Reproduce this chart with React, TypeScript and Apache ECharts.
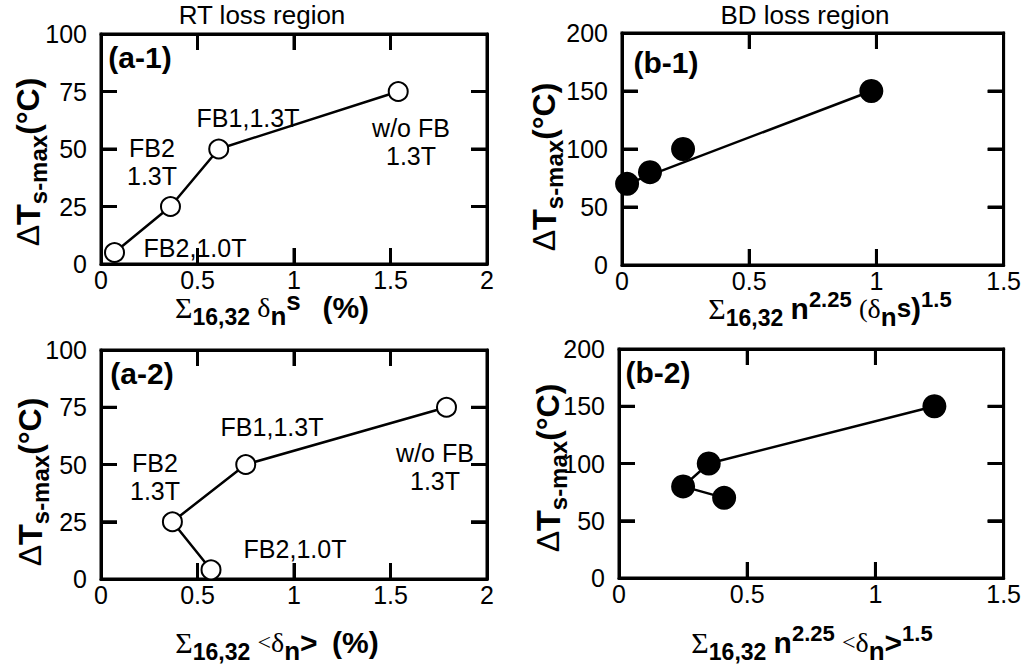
import React, { useEffect, useRef } from 'react';
import * as echarts from 'echarts';

// ---- data ----
const a1X = [0.07, 0.36, 0.61, 1.54];
const a1Y = [5, 25, 50, 75];
const a2X = [0.57, 0.37, 0.75, 1.79];
const a2Y = [4, 25, 50, 75];
const b1X = [0.02, 0.11, 0.24, 0.98];
const b1Y = [70, 80, 100, 150];
const b1FitX = [0.02, 0.98];
const b1FitY = [70, 150];
const b2X = [0.41, 0.25, 0.35, 1.23];
const b2Y = [70, 80, 100, 150];

const aXRange = [0, 2, 0.5];
const aYRange = [0, 100, 25];
const bXRange = [0, 1.5, 0.5];
const bYRange = [0, 200, 50];
const aXTicks = [0.5, 1, 1.5];
const aYTicks = [25, 50, 75];
const bXTicks = [0.5, 1];
const bYTicks = [50, 100, 150];

const panelLabels = ['(a-1)', '(b-1)', '(a-2)', '(b-2)'];
const columnTitles = ['RT loss region', 'BD loss region'];
const caseLabels = ['FB1,1.3T', 'FB2\n1.3T', 'w/o FB\n1.3T', 'FB2,1.0T'];

const SANS = '"Liberation Sans", Arial, Helvetica, sans-serif';
const SERIF = '"Liberation Serif", "Times New Roman", serif';

const LH = 30;
const rich = {
  sig: { fontFamily: SERIF, fontSize: 30, color: '#000', lineHeight: LH },
  del: { fontFamily: SERIF, fontSize: 28, color: '#000', lineHeight: LH },
  lt: { fontFamily: SERIF, fontSize: 24, color: '#000', lineHeight: LH },
  par: { fontFamily: SERIF, fontSize: 26, color: '#000', lineHeight: LH },
  b: { fontFamily: SANS, fontSize: 30, fontWeight: 'bold', color: '#000', lineHeight: LH },
  b2: { fontFamily: SANS, fontSize: 26, fontWeight: 'bold', color: '#000', lineHeight: LH },
  sub: { fontFamily: SANS, fontSize: 23, fontWeight: 'bold', color: '#000', lineHeight: 24, padding: [20, 0, 0, 0] },
  subn: { fontFamily: SANS, fontSize: 26, fontWeight: 'bold', color: '#000', lineHeight: 26, padding: [18, 0, 0, 0] },
  sup: { fontFamily: SANS, fontSize: 22, fontWeight: 'bold', color: '#000', lineHeight: 22, padding: [0, 0, 18, 0] },
  sups: { fontFamily: SANS, fontSize: 26, fontWeight: 'bold', color: '#000', lineHeight: 26, padding: [0, 0, 12, 0] },
  sp: { fontFamily: SANS, fontSize: 26, color: '#000', lineHeight: LH },
};

const xTitles = [
  '{sig|Σ}{sub|16,32}{sp| }{del|δ}{subn|n}{sups|s}{sp|   }{b|(%)}',
  '{sig|Σ}{sub|16,32}{sp| }{b|n}{sup|2.25}{sp| }{par|(}{del|δ}{subn|n}{b2|s}{b|)}{sup|1.5}',
  '{sig|Σ}{sub|16,32}{sp| }{lt|<}{del|δ}{subn|n}{b|>}{sp|  }{b|(%)}',
  '{sig|Σ}{sub|16,32}{sp| }{b|n}{sup|2.25}{sp| }{lt|<}{del|δ}{subn|n}{b|>}{sup|1.5}',
];
const yTitle = '{del|Δ}{bT|T}{ysub|s-max}{b|(°C)}';
const yRich = {
  ...rich,
  del: { fontFamily: SANS, fontSize: 32, color: '#000', lineHeight: LH },
  bT: { fontFamily: SANS, fontSize: 34, fontWeight: 'bold', color: '#000', lineHeight: LH },
  b: { fontFamily: SANS, fontSize: 32, fontWeight: 'bold', color: '#000', lineHeight: LH },
  ysub: { fontFamily: SANS, fontSize: 24, fontWeight: 'bold', color: '#000', lineHeight: 24, padding: [20, 0, 0, 0] },
};

const grids = [
  { left: 101, top: 34, width: 386, height: 230 },
  { left: 622, top: 33, width: 385, height: 232 },
  { left: 101, top: 350, width: 386, height: 229 },
  { left: 619, top: 349, width: 385, height: 229 },
];

function pairs(xs: number[], ys: number[]) {
  return xs.map((x, i) => [x, ys[i]]);
}

function txt(text: string, x: number, y: number, size: number, bold = false, extra: any = {}) {
  return {
    type: 'text',
    x,
    y,
    z: 50,
    style: {
      text,
      fontFamily: SANS,
      fontSize: size,
      fontWeight: bold ? 'bold' : 'normal',
      fill: '#000',
      align: 'center',
      verticalAlign: 'middle',
      textAlign: 'center',
      textVerticalAlign: 'middle',
      lineHeight: 28,
      ...extra,
    },
  };
}

const TL = 16; // tick length in pixels

export default function App() {
  const ref = useRef<HTMLDivElement>(null);
  useEffect(() => {
    if (!ref.current) return;
    const chart = echarts.init(ref.current, undefined, { renderer: 'svg' });
    const ranges = [
      [aXRange, aYRange],
      [bXRange, bYRange],
      [aXRange, aYRange],
      [bXRange, bYRange],
    ];
    const tickSets = [
      [aXTicks, aYTicks],
      [bXTicks, bYTicks],
      [aXTicks, aYTicks],
      [bXTicks, bYTicks],
    ];
    const line = { show: true, onZero: false, lineStyle: { color: '#000', width: 3 } };
    const xAxis: any[] = [];
    const yAxis: any[] = [];
    ranges.forEach(([xr, yr], i) => {
      const tick = { show: true, inside: true, length: TL, lineStyle: { color: '#000', width: 3 } };
      const baseX = {
        type: 'value', gridIndex: i, min: xr[0], max: xr[1], interval: xr[2],
        axisLine: line, splitLine: { show: false }, axisTick: tick,
      };
      const baseY = {
        type: 'value', gridIndex: i, min: yr[0], max: yr[1], interval: yr[2],
        axisLine: line, splitLine: { show: false }, axisTick: tick,
      };
      xAxis.push({ ...baseX, position: 'bottom', axisLabel: { color: '#000', fontFamily: SANS, fontSize: 25, margin: 3 } });
      xAxis.push({ ...baseX, position: 'top', axisLabel: { show: false } });
      yAxis.push({ ...baseY, position: 'left', axisLabel: { color: '#000', fontFamily: SANS, fontSize: 25, margin: 14 } });
      yAxis.push({ ...baseY, position: 'right', axisLabel: { show: false } });
    });

    const openStyle = {
      symbol: 'circle', symbolSize: 19,
      itemStyle: { color: '#fff', borderColor: '#000', borderWidth: 2, opacity: 1 },
      lineStyle: { color: '#000', width: 2.5 },
      z: 20,
    };
    const filledStyle = {
      symbol: 'circle', symbolSize: 24,
      itemStyle: { color: '#000', opacity: 1 },
      lineStyle: { color: '#000', width: 2.5 },
      z: 20,
    };

    // inside ticks on all four sides, also drawn as short line series in data space
    const tickSeries: any[] = [];
    const tickBase = {
      type: 'line', symbol: 'none', showSymbol: false, silent: true, z: 15, clip: false,
      lineStyle: { color: '#000', width: 3 },
    };
    ranges.forEach(([xr, yr], i) => {
      const g = grids[i];
      const dy = (TL * (yr[1] - yr[0])) / g.height;
      const dx = (TL * (xr[1] - xr[0])) / g.width;
      tickSets[i][0].forEach((v) => {
        tickSeries.push({ ...tickBase, xAxisIndex: 2 * i, yAxisIndex: 2 * i, data: [[v, yr[0]], [v, yr[0] + dy]] });
        tickSeries.push({ ...tickBase, xAxisIndex: 2 * i, yAxisIndex: 2 * i, data: [[v, yr[1]], [v, yr[1] - dy]] });
      });
      tickSets[i][1].forEach((v) => {
        tickSeries.push({ ...tickBase, xAxisIndex: 2 * i, yAxisIndex: 2 * i, data: [[xr[0], v], [xr[0] + dx, v]] });
        tickSeries.push({ ...tickBase, xAxisIndex: 2 * i, yAxisIndex: 2 * i, data: [[xr[1], v], [xr[1] - dx, v]] });
      });
    });

    const series: any[] = [
      ...tickSeries,
      { type: 'line', xAxisIndex: 0, yAxisIndex: 0, data: pairs(a1X, a1Y), ...openStyle },
      { type: 'line', xAxisIndex: 2, yAxisIndex: 2, data: pairs(b1FitX, b1FitY), showSymbol: false, symbol: 'none', lineStyle: { color: '#000', width: 2.5 }, z: 20 },
      { type: 'scatter', xAxisIndex: 2, yAxisIndex: 2, data: pairs(b1X, b1Y), symbol: 'circle', symbolSize: 24, itemStyle: { color: '#000', opacity: 1 }, z: 21 },
      { type: 'line', xAxisIndex: 4, yAxisIndex: 4, data: pairs(a2X, a2Y), ...openStyle },
      { type: 'line', xAxisIndex: 6, yAxisIndex: 6, data: pairs(b2X, b2Y), ...filledStyle },
    ];

    const graphic: any[] = [
      txt(columnTitles[0], 262, 15, 26),
      txt(columnTitles[1], 805, 15, 26),
      txt(panelLabels[0], 140, 57, 30, true),
      txt(panelLabels[1], 666, 62, 30, true),
      txt(panelLabels[2], 142, 373, 30, true),
      txt(panelLabels[3], 658, 372, 30, true),
      txt(caseLabels[0], 248, 118, 25),
      txt(caseLabels[1], 152, 162, 25),
      txt(caseLabels[2], 411, 142, 25),
      txt(caseLabels[3], 195, 248, 25),
      txt(caseLabels[0], 272, 427, 25),
      txt(caseLabels[1], 155, 477, 25),
      txt(caseLabels[2], 435, 467, 25),
      txt(caseLabels[3], 295, 549, 25),
      txt(xTitles[0], 272, 307, 26, false, { rich, lineHeight: LH }),
      txt(xTitles[1], 830, 308, 26, false, { rich, lineHeight: LH }),
      txt(xTitles[2], 277, 642, 26, false, { rich, lineHeight: LH }),
      txt(xTitles[3], 812, 642, 26, false, { rich, lineHeight: LH }),
    ];
    const yt = [
      [28, 162],
      [544, 167],
      [30, 482],
      [548, 468],
    ];
    yt.forEach(([x, y]) => {
      const t: any = txt(yTitle, x, y, 26, false, { rich: yRich, lineHeight: LH });
      t.rotation = Math.PI / 2;
      graphic.push(t);
    });

    chart.setOption({
      animation: false,
      backgroundColor: '#fff',
      grid: grids.map((g) => ({ ...g, show: true, borderColor: '#000', borderWidth: 3 })),
      xAxis,
      yAxis,
      series,
      graphic,
    });
    return () => chart.dispose();
  }, []);
  return <div ref={ref} style={{ position: 'absolute', left: 0, top: 0, width: 1024, height: 670 }} />;
}
